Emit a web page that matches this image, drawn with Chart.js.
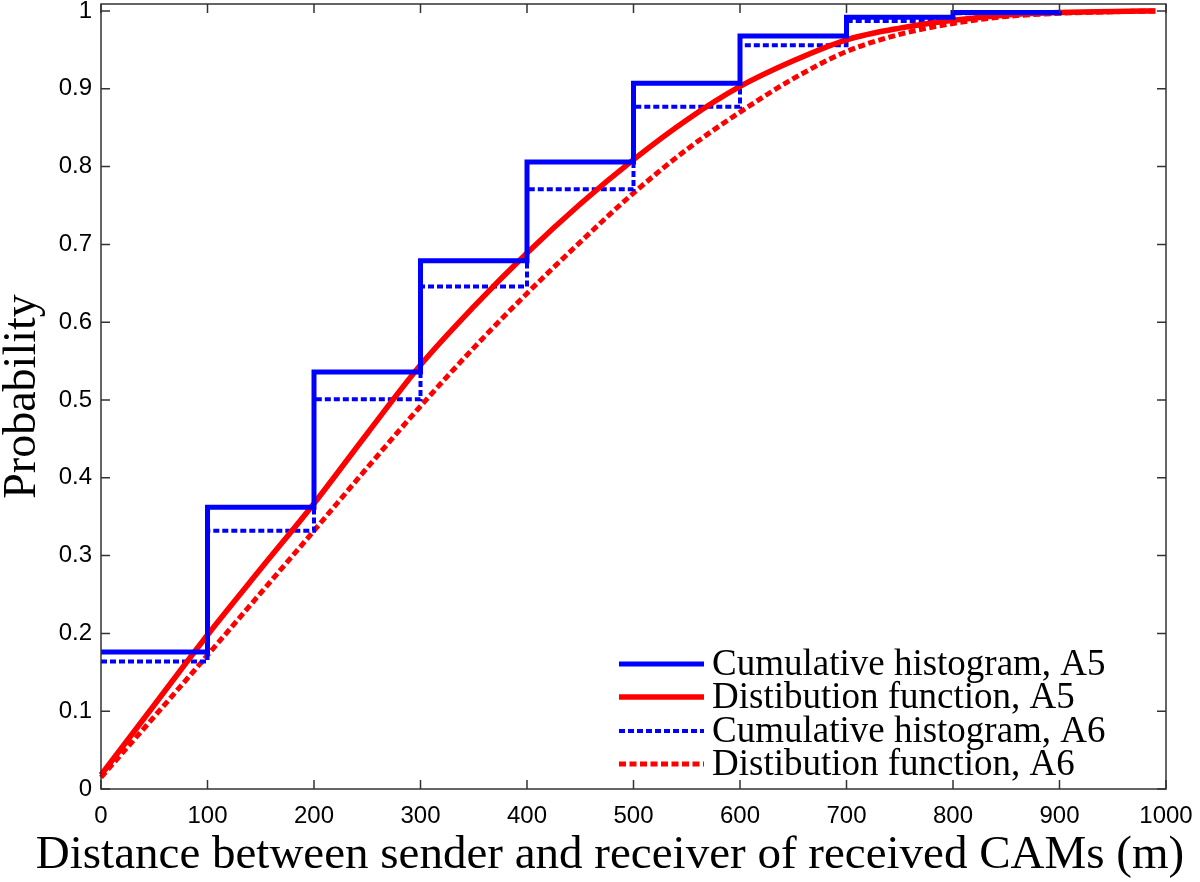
<!DOCTYPE html>
<html>
<head>
<meta charset="utf-8">
<script src="https://cdn.jsdelivr.net/npm/chart.js@4/dist/chart.umd.min.js"></script>
<style>
  html, body { margin: 0; padding: 0; background: #fff; }
  #wrap { width: 1200px; height: 882px; }
</style>
</head>
<body>
<div id="wrap"><canvas id="cdfChart" width="1200" height="882"></canvas></div>
<script>
// cumulative histograms (stairs, bins of 100 m)
const stepX = [0, 100, 200, 300, 400, 500, 600, 700, 800, 900];
const histA5 = [0.176, 0.362, 0.536, 0.679, 0.806, 0.907, 0.968, 0.992, 0.998, 1.0];
const histA6 = [0.164, 0.332, 0.501, 0.646, 0.771, 0.877, 0.956, 0.987, 0.997, 1.0];

// fitted distribution functions
const curveX = [0, 50, 100, 150, 200, 250, 300, 350, 400, 450, 500, 550, 600, 650, 700, 750, 800, 850, 900, 950, 990];
const distA5 = [0.018, 0.108, 0.198, 0.283, 0.367, 0.457, 0.545, 0.62, 0.689, 0.752, 0.809, 0.86, 0.903, 0.936, 0.963, 0.978, 0.988, 0.995, 0.998, 0.9995, 1.0];
const distA6 = [0.015, 0.093, 0.172, 0.252, 0.332, 0.413, 0.492, 0.567, 0.637, 0.703, 0.766, 0.822, 0.870, 0.913, 0.948, 0.970, 0.984, 0.993, 0.997, 0.999, 1.0];

const xTicks = [0, 100, 200, 300, 400, 500, 600, 700, 800, 900, 1000];
const yTicks = [0, 0.1, 0.2, 0.3, 0.4, 0.5, 0.6, 0.7, 0.8, 0.9, 1];

const seriesNames = ['Cumulative histogram, A5', 'Distibution function, A5',
                     'Cumulative histogram, A6', 'Distibution function, A6'];
const xTitle = 'Distance between sender and receiver of received CAMs (m)';

const BLUE = '#0000ff';
const RED = '#ff0000';

function pts(xs, ys) {
  return xs.map((x, i) => ({ x: x, y: ys[i] }));
}

// box + inward ticks like matlab, the in-plot legend and the wide x title
const framePlugin = {
  id: 'frame',
  afterDatasetsDraw(chart) {
    const c = chart.ctx;
    const a = chart.chartArea;
    const xs = chart.scales.x, ys = chart.scales.y;
    c.save();
    c.strokeStyle = '#333';
    c.lineWidth = 1.5;
    c.strokeRect(a.left, a.top, a.right - a.left, a.bottom - a.top);
    c.beginPath();
    xTicks.forEach(v => {
      const px = xs.getPixelForValue(v);
      c.moveTo(px, a.bottom); c.lineTo(px, a.bottom - 9);
      c.moveTo(px, a.top); c.lineTo(px, a.top + 9);
    });
    yTicks.forEach(v => {
      const py = ys.getPixelForValue(v);
      c.moveTo(a.left, py); c.lineTo(a.left + 9, py);
      c.moveTo(a.right, py); c.lineTo(a.right - 9, py);
    });
    c.stroke();

    // legend
    const rowY = [664, 697, 731, 764];
    const sets = chart.data.datasets;
    c.font = '37px "Liberation Serif"';
    c.textBaseline = 'middle';
    c.fillStyle = '#000';
    sets.forEach((ds, i) => {
      c.strokeStyle = ds.borderColor;
      c.lineWidth = ds.borderWidth;
      c.setLineDash(ds.borderDash || []);
      c.beginPath();
      c.moveTo(619, rowY[i]);
      c.lineTo(704, rowY[i]);
      c.stroke();
      c.setLineDash([]);
      c.fillText(ds.label, 712, rowY[i] + 1);
    });

    // x axis title, wider than the plot box
    c.font = '47px "Liberation Serif"';
    c.textAlign = 'center';
    c.textBaseline = 'alphabetic';
    c.fillText(xTitle, 610, 868);
    c.restore();
  }
};

const ctx = document.getElementById('cdfChart').getContext('2d');

const cdfChart = new Chart(ctx, {
  type: 'line',
  data: {
    datasets: [
      { label: seriesNames[0], data: pts(stepX, histA5), stepped: 'before',
        borderColor: BLUE, borderWidth: 5, pointRadius: 0 },
      { label: seriesNames[1], data: pts(curveX, distA5), cubicInterpolationMode: 'monotone',
        borderColor: RED, borderWidth: 5.5, pointRadius: 0 },
      { label: seriesNames[2], data: pts(stepX, histA6), stepped: 'before',
        borderColor: BLUE, borderWidth: 4, borderDash: [6, 3], pointRadius: 0 },
      { label: seriesNames[3], data: pts(curveX, distA6), cubicInterpolationMode: 'monotone',
        borderColor: RED, borderWidth: 5, borderDash: [7, 3.5], pointRadius: 0 }
    ]
  },
  options: {
    responsive: false,
    animation: false,
    clip: false,
    layout: { padding: { left: 0, right: 34, top: 4, bottom: 0 } },
    plugins: {
      legend: { display: false },
      tooltip: { enabled: false }
    },
    scales: {
      x: {
        type: 'linear',
        min: 0, max: 1000,
        afterFit: s => { s.height = 93; s.paddingLeft = 0; s.paddingRight = 0; },
        grid: { display: false, drawTicks: false },
        border: { display: false },
        ticks: {
          stepSize: 100, padding: 13, color: '#000', maxRotation: 0,
          font: { family: '"Liberation Sans"', size: 24 },
          callback: v => String(v)
        }
      },
      y: {
        min: 0, max: 1.009,
        afterFit: s => { s.width = 101; s.paddingTop = 0; s.paddingBottom = 0; },
        grid: { display: false, drawTicks: false },
        border: { display: false },
        ticks: {
          stepSize: 0.1, includeBounds: false, padding: 9, color: '#000',
          font: { family: '"Liberation Sans"', size: 24 },
          callback: v => String(+v.toFixed(1))
        },
        title: {
          display: true,
          text: 'Probability',
          color: '#000',
          font: { family: '"Liberation Serif"', size: 46, lineHeight: 1 },
          padding: { top: 0, bottom: 0 }
        }
      }
    }
  },
  plugins: [framePlugin]
});
</script>
</body>
</html>
